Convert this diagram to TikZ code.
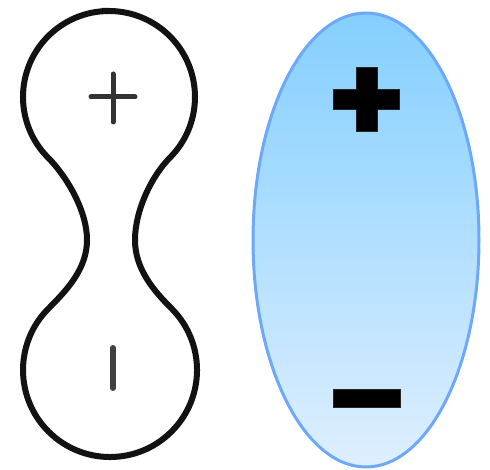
\documentclass[tikz,border=0pt]{standalone}
\begin{document}
\begin{tikzpicture}[x=1pt,y=1pt,
  outline/.style={draw=black!93,line width=6pt},
  signline/.style={draw=black!80,line width=5pt,line cap=round},
  signbar/.style={fill=black,draw=black!70!gray,line width=0.4pt},
  lens/.style={draw={rgb,255:red,110;green,168;blue,248},line width=3pt,
    top color={rgb,255:red,132;green,207;blue,255},
    bottom color={rgb,255:red,222;green,239;blue,255}}]
\useasboundingbox (0,0) rectangle (490,469);
% peanut outline
\draw[outline]
  (109,458) arc[start angle=90,end angle=225,radius=86]
  .. controls (65.9,293.5) and (87,259) .. (87,229)
  .. controls (87,200) and (66.5,178.5) .. (48.5,160.5)
  arc[start angle=135,end angle=405,radius=87]
  .. controls (153.8,178.2) and (135,200) .. (135,229)
  .. controls (135,259) and (152.1,293.5) .. (169.8,311.2)
  arc[start angle=-45,end angle=90,radius=86] -- cycle;
% left signs
\draw[signline] (91,372) -- (135,372);
\draw[signline] (113,395) -- (113,347);
\draw[signline,line width=6pt,draw=black!75] (113,121) -- (113,81);
% ellipse
\draw[lens] (366,229) ellipse[x radius=113,y radius=227];
% right signs
\filldraw[signbar] (356,401.7) -- (377,401.7) -- (377,379.7) -- (399.5,379.7)
  -- (399.5,359.7) -- (377,359.7) -- (377,337.7) -- (356,337.7)
  -- (356,359.7) -- (333,359.7) -- (333,379.7) -- (356,379.7) -- cycle;
\filldraw[signbar] (333,62.3) rectangle (400,80);
\end{tikzpicture}
\end{document}
